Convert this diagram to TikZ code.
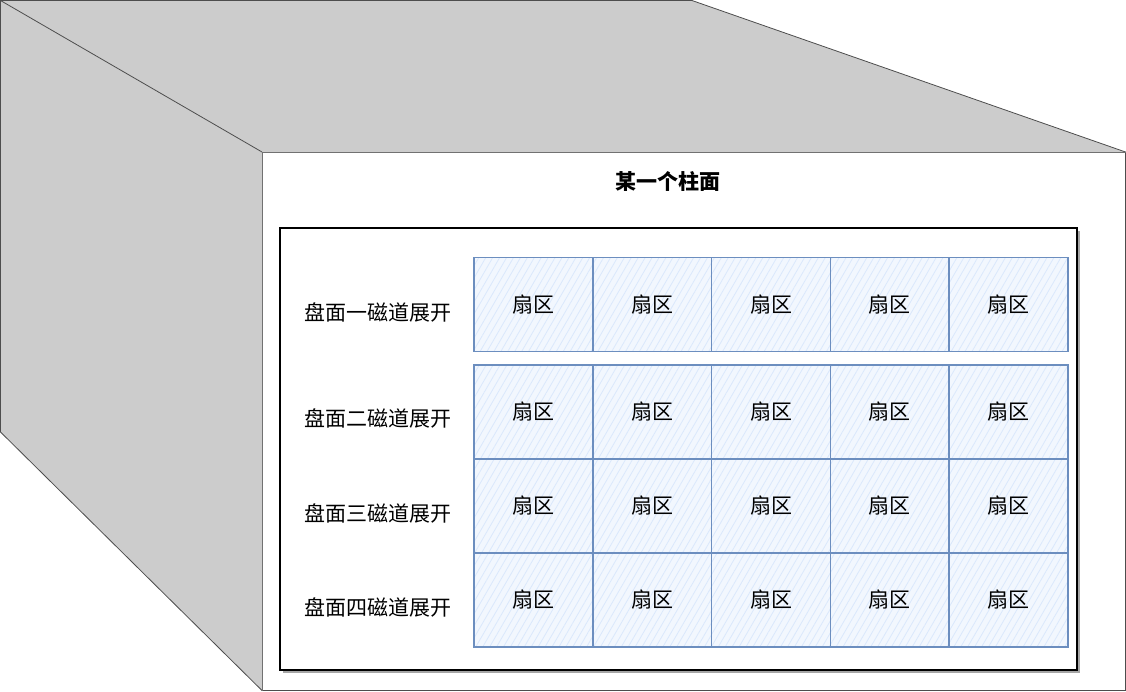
\documentclass[tikz,border=0pt]{standalone}
\usepackage{fontspec}
\setmainfont{Noto Sans CJK SC}
\usetikzlibrary{patterns.meta,calc}
\definecolor{SideClr}{HTML}{CCCCCC}
\definecolor{EdgeClr}{HTML}{4D4D4D}
\definecolor{CellClr}{HTML}{6C8EBF}
\definecolor{HatchClr}{HTML}{DAE8FC}

\begin{document}
\begin{tikzpicture}[x=1pt,y=-1pt,
  sector/.style={draw=CellClr,line width=1.6pt,
    preaction={fill=HatchClr!35},
    pattern={Lines[angle=60,distance=6pt,line width=0.8pt]},pattern color=HatchClr,
    minimum width=119pt,minimum height=94pt,inner sep=0pt,
    font=\fontsize{21}{21}\selectfont},
  track/.style={font=\fontsize{21}{21}\selectfont,inner sep=0pt}]
\useasboundingbox (0,0) rectangle (1126,691);

\coordinate (TL) at (0.5,0.5);
\coordinate (TR) at (692,0.5);
\coordinate (FTL) at (262,152);
\coordinate (FTR) at (1125.5,152);
\coordinate (FBR) at (1125.5,690.5);
\coordinate (FBL) at (262,690.5);
\coordinate (LB) at (0.5,432);

% top and left faces
\fill[SideClr] (TL)--(TR)--(FTR)--(FTL)--cycle;
\fill[SideClr] (TL)--(FTL)--(FBL)--(LB)--cycle;
\draw[EdgeClr,line width=0.8pt] (TL)--(TR)--(FTR)--(FBR)--(FBL)--(LB)--cycle;
\draw[EdgeClr,line width=0.8pt] (TL)--(FTL);
\draw[EdgeClr!80,line width=0.8pt] (FTR)--(FTL)--(FBL);

\node[font=\bfseries\fontsize{21}{21}\selectfont] (title) at (668,181) {某一个柱面};

% the unrolled cylinder
\fill[black!35] (283,231) rectangle (1080,673);
\draw[line width=1.6pt,fill=white] (280,228) rectangle (1077,670);

\foreach \r/\y in {1/304.5,2/412,3/506,4/600}{
  \foreach \c in {1,...,5}{
    \node[sector] (s-\r-\c) at ({474+118.8*(\c-0.5)},\y) {扇区};
  }
}

\node[track] (t-1) at (378,312) {盘面一磁道展开};
\node[track] (t-2) at (378,418) {盘面二磁道展开};
\node[track] (t-3) at (378,513) {盘面三磁道展开};
\node[track] (t-4) at (378,607) {盘面四磁道展开};

\end{tikzpicture}
\end{document}
